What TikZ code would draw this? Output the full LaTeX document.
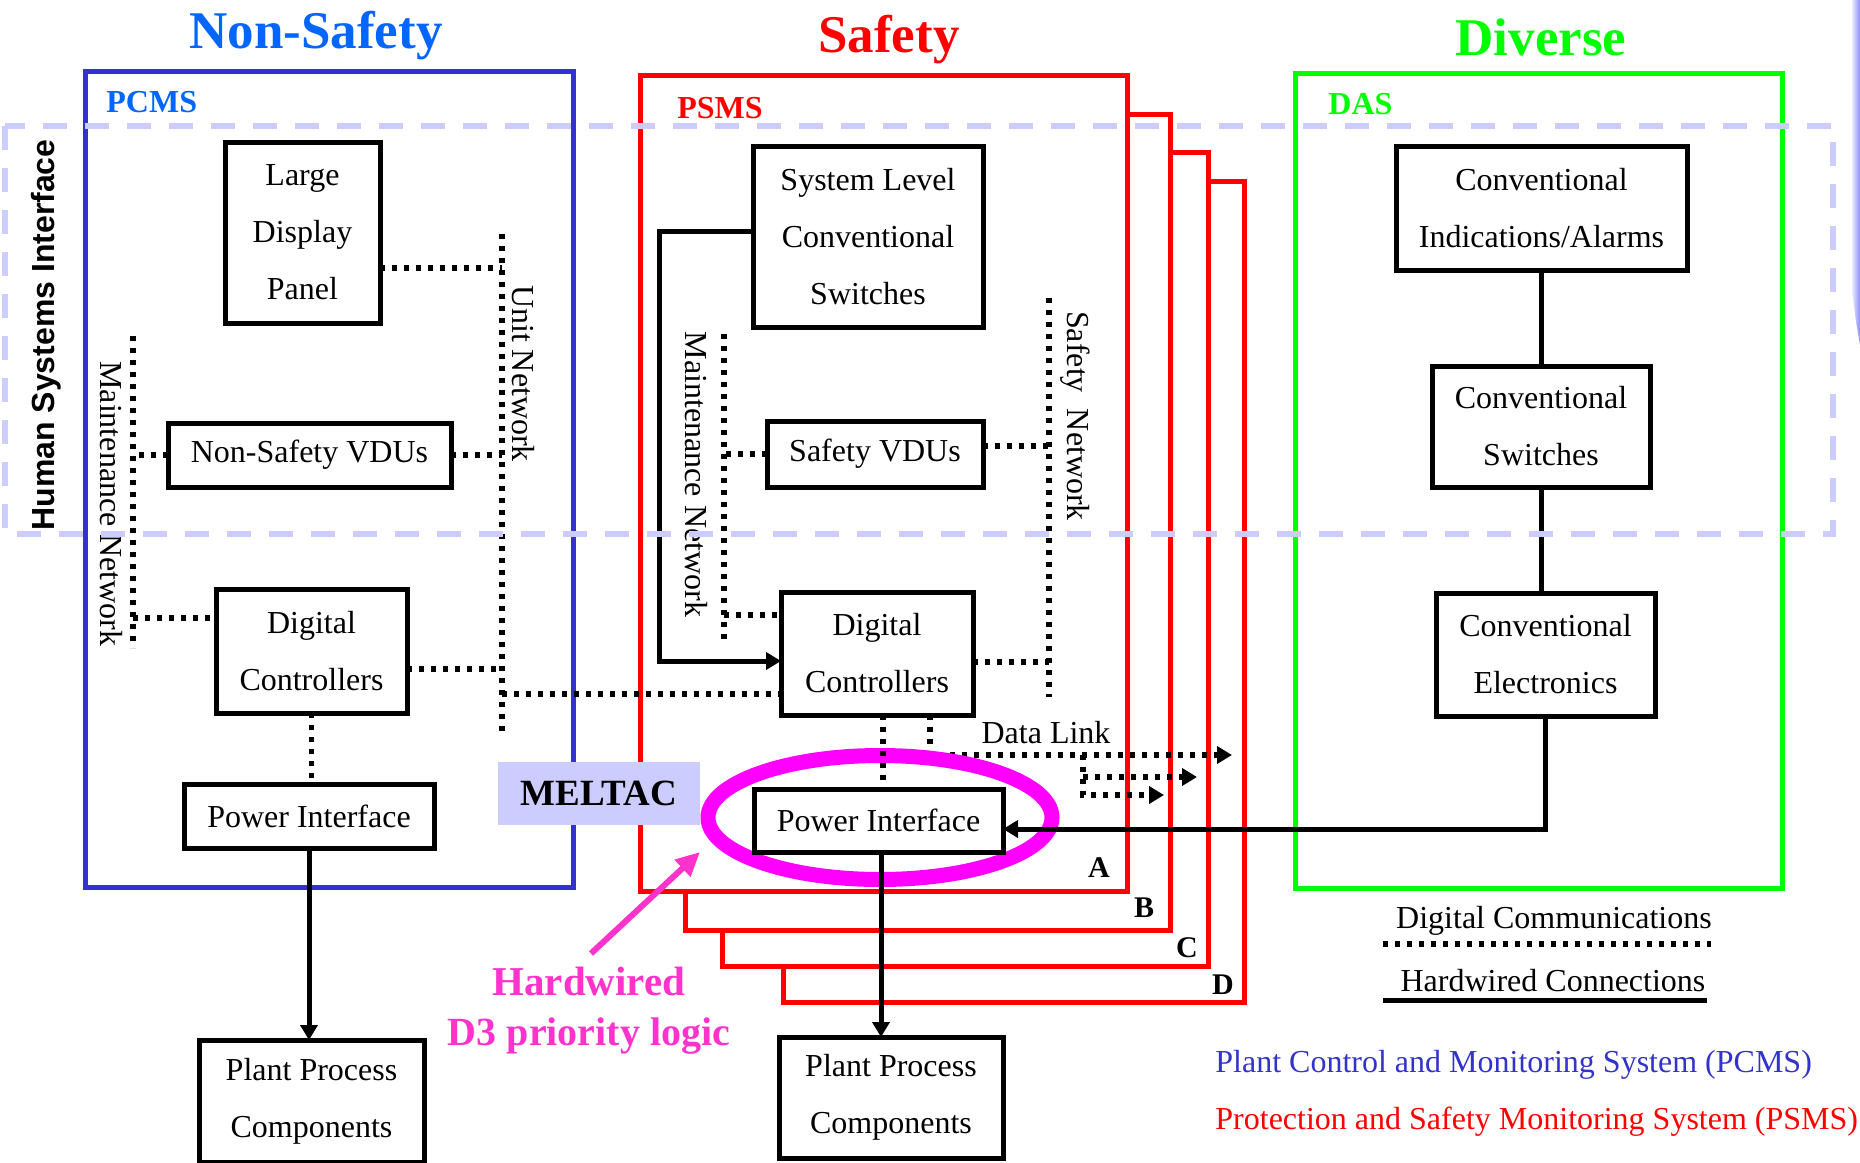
\documentclass[tikz,border=0pt]{standalone}
\usepackage{fontspec}
\setmainfont{Liberation Serif}
\newfontfamily\hsisans{Liberation Sans}
\usepackage{xcolor}
\usetikzlibrary{arrows.meta,positioning,calc}
\definecolor{nsblue}{HTML}{0066FF}
\definecolor{pcmsblue}{HTML}{3333CC}
\definecolor{sfred}{HTML}{FF0000}
\definecolor{dvgreen}{HTML}{00FF00}
\definecolor{hsilav}{HTML}{CCCCFF}
\definecolor{d3pink}{HTML}{FF33CC}
\definecolor{ringmag}{HTML}{FF00FF}
\pgfdeclarelayer{frames}
\pgfdeclarelayer{dlink}
\pgfdeclarelayer{ring}
\pgfsetlayers{frames,dlink,ring,main}

\begin{document}
\begin{tikzpicture}[x=0.5pt, y=-0.5pt,
  box/.style={draw, line width=2.5pt, fill=white, inner sep=0pt, outer sep=0pt, align=center, font=\fontsize{16}{28.5}\selectfont},
  grp/.style={line width=2.5pt},
  dig/.style={line width=2.6pt, dash pattern=on 2.6pt off 3.4pt},
  hw/.style={line width=2.5pt},
  tip/.style={-{Triangle[length=7.5pt,width=8.5pt]}},
  netlbl/.style={rotate=-90, font=\fontsize{16}{19}\selectfont},
  ttl/.style={font=\fontsize{26.5}{30}\selectfont\bfseries, anchor=base},
  sys/.style={font=\fontsize{16}{19}\selectfont\bfseries, anchor=base west, inner sep=0pt},
  chan/.style={font=\fontsize{15}{18}\selectfont\bfseries}]
  \useasboundingbox (0,0) rectangle (1860,1163);
  \begin{pgfonlayer}{frames}
  \shade[left color=blue!8, right color=blue!45] (1852,0) -- (1860,0) -- (1860,345) -- (1856,322) -- (1852,290) -- cycle;
  \draw[grp, sfred, fill=white] (783,181) rectangle (1244,1002);
  \draw[grp, sfred, fill=white] (722,152) rectangle (1208,966);
  \draw[grp, sfred, fill=white] (685,114) rectangle (1170,930);
  \draw[grp, sfred, fill=white] (640,75) rectangle (1127,891);
  \draw[grp, pcmsblue] (85,71) rectangle (573,887);
  \draw[grp, dvgreen] (1295,73) rectangle (1782,888);
  \end{pgfonlayer}

  \node[ttl, nsblue] (nstitle) at (316,48) {Non-Safety};
  \node[ttl, sfred] (sftitle) at (889,52) {Safety};
  \node[ttl, dvgreen] (dvtitle) at (1541,55) {Diverse};
  \node[sys, nsblue] (pcmslbl) at (106,112) {PCMS};
  \node[sys, sfred] (psmslbl) at (677,118) {PSMS};
  \node[sys, dvgreen] (daslbl) at (1328,114) {DAS};

  \begin{pgfonlayer}{ring}
  \draw[ringmag, line width=7.5pt] (880,817.5) ellipse [x radius=86pt, y radius=31pt];
  \end{pgfonlayer}
  \node[fill=hsilav, minimum width=101pt, minimum height=31.5pt, inner sep=0pt, font=\fontsize{18.5}{20}\selectfont\bfseries] (meltac) at (599,793.5) {MELTAC};

  \node[box, minimum width=77.5pt, minimum height=90.5pt] (ldp) at (302.5,232.5) {Large\\Display\\Panel};
  \node[box, minimum width=141.5pt, minimum height=32pt] (nsvdu) at (309.5,455) {Non-Safety VDUs};
  \node[box, minimum width=95.5pt, minimum height=62pt] (nsdc) at (311.5,651) {Digital\\Controllers};
  \node[box, minimum width=125pt, minimum height=32pt] (nspi) at (309,816) {Power Interface};
  \node[box, minimum width=112.5pt, minimum height=61pt] (nsppc) at (311.5,1101) {Plant Process\\Components};
  \node[box, minimum width=115pt, minimum height=90.5pt] (slcs) at (868,236.5) {System Level\\Conventional\\Switches};
  \node[box, minimum width=108pt, minimum height=33pt] (svdu) at (875,454) {Safety VDUs};
  \node[box, minimum width=96pt, minimum height=61.5pt] (sdc) at (877,653.5) {Digital\\Controllers};
  \node[box, minimum width=124.5pt, minimum height=31.5pt] (spi) at (878.5,820.5) {Power Interface};
  \node[box, minimum width=112pt, minimum height=60.5pt] (sppc) at (891,1097.5) {Plant Process\\Components};
  \node[box, minimum width=145.5pt, minimum height=62pt] (cia) at (1541.5,208) {Conventional\\Indications/Alarms};
  \node[box, minimum width=109pt, minimum height=60.5pt] (cs) at (1541,426.5) {Conventional\\Switches};
  \node[box, minimum width=109.5pt, minimum height=61.5pt] (ce) at (1545.5,654.5) {Conventional\\Electronics};

  \coordinate (un-t) at (502,234); \coordinate (un-b) at (502,731);
  \coordinate (mn-t) at (133,336); \coordinate (mn-b) at (133,648);
  \coordinate (smn-t) at (724,334); \coordinate (smn-b) at (724,645);
  \coordinate (sn-t) at (1049,298); \coordinate (sn-b) at (1049,697);
  \coordinate (un-ldp) at (502,268); \coordinate (un-dc) at (502,669); \coordinate (un-sdc) at (502,694);
  \coordinate (mn-dc) at (133,618); \coordinate (smn-dc) at (724,615);
  \coordinate (sw-bend) at (659,231);
  \coordinate (dl-knee) at (930,755); \coordinate (dl-split) at (1083,755);
  \coordinate (dl-a) at (1232,755); \coordinate (dl-b) at (1197,777); \coordinate (dl-c) at (1164,795);

  \draw[dig] (un-t) -- (un-b);
  \draw[dig] (mn-t) -- (mn-b);
  \draw[dig] (smn-t) -- (smn-b);
  \draw[dig] (sn-t) -- (sn-b);
  \draw[dig] (ldp.east |- un-ldp) -- (un-ldp);
  \draw[dig] (nsvdu.west) -- (nsvdu.west -| mn-t);
  \draw[dig] (nsvdu.east) -- (nsvdu.east -| un-t);
  \draw[dig] (mn-dc) -- (mn-dc -| nsdc.west);
  \draw[dig] (nsdc.east |- un-dc) -- (un-dc);
  \draw[dig] (un-sdc) -- (un-sdc -| sdc.west);
  \draw[dig] (nsdc.south) -- (nsdc.south |- nspi.north);
  \draw[hw, tip] (nspi.south) -- (nspi.south |- nsppc.north);
  \draw[hw, tip] (slcs.west |- sw-bend) -- (sw-bend) |- ([yshift=-3.75pt]sdc.west);
  \draw[dig] (svdu.west) -- (svdu.west -| smn-t);
  \draw[dig] (smn-dc) -- (smn-dc -| sdc.west);
  \draw[dig] ([yshift=4pt]svdu.east) -- ([yshift=4pt]svdu.east -| sn-t);
  \draw[dig] ([yshift=-4.25pt]sdc.east) -- ([yshift=-4.25pt]sdc.east -| sn-t);
  \draw[dig] ([xshift=3pt]sdc.south) -- ([xshift=3pt]sdc.south |- spi.north);
  \begin{pgfonlayer}{dlink}
  \draw[dig, tip] (sdc.south -| dl-knee) -- (dl-knee) -- (dl-a);
  \draw[dig, tip] (dl-split |- dl-b) -- (dl-b);
  \draw[dig, tip] (dl-split) |- (dl-c);
  \end{pgfonlayer}
  \draw[hw, tip] (ce.south) |- ([yshift=-4.25pt]spi.east);
  \draw[hw, tip] ([xshift=1.25pt]spi.south) -- ([xshift=1.25pt]spi.south |- sppc.north);
  \draw[hw] (cia.south) -- (cia.south |- cs.north);
  \draw[hw] (cs.south) -- (cs.south |- ce.north);

  \node[netlbl] (unlbl) at (523,373.5) {Unit Network};
  \node[netlbl] (mnlbl) at (111,504) {Maintenance Network};
  \node[netlbl] (smnlbl) at (696,474.5) {Maintenance Network};
  \node[netlbl] (snlbl) at (1075,416) {Safety~~Network};
  \node[font=\fontsize{16}{19}\selectfont] (dllbl) at (1046,733) {Data Link};

  \node[chan] (chA) at (1099,868) {A};
  \node[chan] (chB) at (1144,908) {B};
  \node[chan] (chC) at (1187,948) {C};
  \node[chan] (chD) at (1223,985) {D};

  \node[d3pink, anchor=base, font=\fontsize{20.5}{24}\selectfont\bfseries] (hwlbl) at (589,995) {Hardwired};
  \node[d3pink, anchor=base, font=\fontsize{20}{24}\selectfont\bfseries] (d3lbl) at (589,1045) {D3 priority logic};
  \coordinate (ringtip) at (700,852);
  \draw[d3pink, line width=3pt, -{Triangle[length=12pt,width=11pt]}] (hwlbl.north) ++(2,-6) -- (ringtip);

  \node[font=\fontsize{16}{19}\selectfont] (diglbl) at (1554,921) {Digital Communications};
  \draw[dig] (1383,944) -- (1711,944);
  \node[font=\fontsize{16}{19}\selectfont] (hwleg) at (1553,981) {Hardwired Connections};
  \draw[hw] (1383,1000) -- (1707,1000);
  \node[pcmsblue, anchor=base west, inner sep=0pt, font=\fontsize{16}{19}\selectfont] (pcmsleg) at (1215,1072) {Plant Control and Monitoring System (PCMS)};
  \node[sfred, anchor=base west, inner sep=0pt, font=\fontsize{16}{19}\selectfont] (psmsleg) at (1215,1129) {Protection and Safety Monitoring System (PSMS)};

  \node[rotate=90, font=\hsisans\fontsize{16}{19}\selectfont\bfseries] (hsilbl) at (46.5,335) {Human Systems Interface};
  \draw[hsilav, line width=2.75pt, dash pattern=on 12pt off 9pt] (5,126) rectangle (1833,534);
\end{tikzpicture}
\end{document}
